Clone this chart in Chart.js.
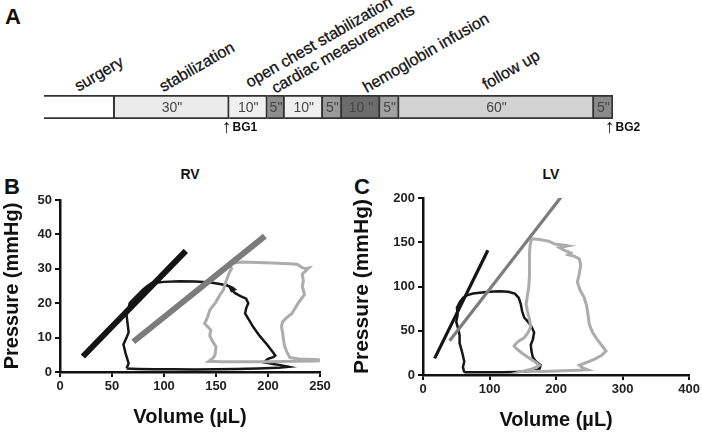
<!DOCTYPE html>
<html>
<head>
<meta charset="utf-8">
<script src="https://cdn.jsdelivr.net/npm/chart.js"></script>
<style>
  body { margin: 0; background: #fff; }
  #wrap { position: relative; width: 702px; height: 435px; overflow: hidden; font-family: "Liberation Sans", Arial, sans-serif; }
  canvas { position: absolute; }
  .lbl { position: absolute; white-space: nowrap; transform: translate(-50%, -50%) rotate(-30deg); font-size: 16px; color: #111; -webkit-text-stroke: 0.3px #111; }
  .big { position: absolute; font-weight: bold; color: #111; }
  .bg { position: absolute; font-weight: bold; font-size: 12px; color: #111; line-height: 16px; }
  .bg span { font-weight: normal; font-size: 19px; vertical-align: -2px; margin-right: 1px; }
</style>
</head>
<body>
<div id="wrap">
  <div class="big" style="left:5px; top:4px; font-size:22px;">A</div>

  <div class="lbl" style="left:99px; top:74px;">surgery</div>
  <div class="lbl" style="left:197px; top:67px;">stabilization</div>
  <div class="lbl" style="left:319px; top:42px;">open chest stabilization</div>
  <div class="lbl" style="left:343px; top:49px;">cardiac measurements</div>
  <div class="lbl" style="left:426px; top:53px;">hemoglobin infusion</div>
  <div class="lbl" style="left:511px; top:70px;">follow up</div>

  <canvas id="timeline" width="702" height="24" style="left:0; top:95px;"></canvas>
  <div class="bg" style="left:222px; top:119px;"><span>↑</span>BG1</div>
  <div class="bg" style="left:605px; top:119px;"><span>↑</span>BG2</div>

  <div class="big" style="left:4px; top:174px; font-size:22px;">B</div>
  <div class="big" style="left:190px; top:174px; font-size:14px; transform:translate(-50%,-50%);">RV</div>
  <canvas id="rv" width="350" height="265" style="left:0; top:170px;"></canvas>

  <div class="big" style="left:354px; top:174px; font-size:22px;">C</div>
  <div class="big" style="left:551px; top:174px; font-size:14px; transform:translate(-50%,-50%);">LV</div>
  <canvas id="lv" width="352" height="265" style="left:350px; top:170px;"></canvas>
</div>

<script>
// protocol timeline (drawn lengths, minutes on the schematic)
var segLength = [18.5, 30, 10, 4.5, 10, 5, 10, 5, 51, 5];
var segText = ['', '30"', '10"', '5"', '10"', '5"', '10 "', '5"', '60"', '5"'];
var segColor = ['#ffffff', '#ebebeb', '#f0f0f0', '#8e8e8e', '#f0f0f0', '#9a9a9a', '#6c6c6c', '#a2a2a2', '#d3d3d3', '#8a8a8a'];

// RV loops (volume uL, pressure mmHg)
var rvBaseVol = [64, 66, 63, 61, 64, 66, 65, 64, 66, 67, 70, 75, 80, 84, 88, 100, 115, 130, 145, 155, 162, 166, 168, 165, 164, 168, 174, 179, 181, 179, 178, 182, 186, 192, 199, 204, 207, 205, 200, 196, 205, 212, 220, 210, 190, 170, 150, 130, 110, 90, 75, 64];
var rvBaseP = [1.0, 2.5, 5.5, 8, 10, 11.5, 14, 16.5, 18.5, 20, 21, 22.5, 24, 25, 25.8, 26.2, 26.4, 26.3, 26, 25.5, 25, 24.5, 24, 23.6, 24.2, 23, 22, 21.3, 20, 18.5, 17, 15, 13, 10.5, 8, 6, 4.8, 4.3, 3.8, 2.8, 2.3, 2, 1.5, 1.2, 1.0, 0.9, 0.8, 0.7, 0.8, 0.8, 0.9, 1.0];
var rvHbVol = [162, 175, 190, 205, 220, 228, 232, 236, 239, 236, 233, 234, 233, 235, 229, 223, 218, 214, 213, 214, 215, 216, 218, 221, 230, 245, 258, 245, 225, 200, 175, 155, 143, 147, 149, 150, 146, 144, 145, 139, 142, 144, 150, 154, 157, 160, 163, 165, 162];
var rvHbP = [31.5, 32, 31.8, 31.7, 31.5, 31.3, 30.5, 30, 30.2, 29.3, 28.5, 26.5, 25, 22.5, 20, 17, 15.8, 14.6, 13.2, 11.5, 9.3, 7.5, 5.9, 4.2, 3.8, 3.6, 3.3, 3.2, 3.1, 3.0, 3.0, 3.0, 3.1, 4, 4.9, 7.3, 9.3, 10.5, 12.2, 14.1, 16, 18, 20.4, 22.5, 23.8, 26.7, 29, 30, 31.5];
var rvEspvrBaseVol = [22, 121];
var rvEspvrBaseP = [4.5, 35.2];
var rvEspvrHbVol = [70.5, 197];
var rvEspvrHbP = [8.8, 39.5];

// LV loops
var lvBaseVol = [62, 60, 62, 60, 58, 55, 55, 53, 50, 52, 51, 55, 60, 66, 75, 85, 100, 115, 128, 138, 144, 147, 149, 152, 158, 163, 167, 165, 162, 163, 165, 170, 177, 175, 168, 155, 140, 120, 100, 80, 65, 62];
var lvBaseP = [3, 9, 15, 22, 28, 36, 45, 52, 60, 68, 76, 82, 87, 90, 92, 93, 94, 94.5, 94, 92, 87, 80, 72, 65, 60, 55, 48, 40, 34, 27, 20, 15, 11, 7, 5, 4, 3.5, 3, 3, 3, 3, 3];
var lvHbVol = [163, 175, 190, 198, 210, 218, 205, 212, 222, 218, 228, 235, 237, 235, 232, 236, 242, 246, 248, 250, 255, 262, 270, 275, 268, 258, 245, 235, 240, 247, 235, 220, 200, 180, 165, 150, 165, 175, 168, 160, 150, 140, 137, 143, 152, 158, 162, 160, 157, 155, 157, 159, 160, 160, 160, 161, 163];
var lvHbP = [154, 153, 151, 148, 147, 146, 144, 141, 138, 136, 134, 131, 124, 115, 105, 96, 88, 78, 68, 57, 48, 40, 32, 27, 22, 18, 14, 11, 8, 6, 5.5, 5, 4.5, 4, 4.5, 4, 7, 11, 15, 19, 24, 30, 33, 38, 42, 48, 55, 63, 72, 80, 90, 100, 112, 125, 137, 147, 154];
var lvEspvrBaseVol = [17.5, 97.5];
var lvEspvrBaseP = [18.8, 141];
var lvEspvrHbVol = [40, 208.5];
var lvEspvrHbP = [38.7, 202];

function pts(xs, ys) {
    return xs.map(function (x, i) { return { x: x, y: ys[i] }; });
}

var fontFam = '"Liberation Sans", Arial, sans-serif';

// text inside the timeline boxes
var segTextPlugin = {
    id: 'segText',
    afterDatasetsDraw: function (chart) {
        var ctx = chart.ctx;
        ctx.save();
        ctx.font = '14px ' + fontFam;
        ctx.textAlign = 'center';
        ctx.textBaseline = 'middle';
        chart.data.datasets.forEach(function (ds, i) {
            var bar = chart.getDatasetMeta(i).data[0];
            ctx.fillStyle = '#444';
            ctx.fillText(segText[i], (bar.x + bar.base) / 2, bar.y + 1);
        });
        ctx.restore();
    }
};

var total = segLength.reduce(function (a, b) { return a + b; }, 0);

new Chart(document.getElementById('timeline'), {
    type: 'bar',
    data: {
        labels: [''],
        datasets: segLength.map(function (v, i) {
            return {
                data: [v],
                backgroundColor: segColor[i],
                borderColor: '#333',
                borderWidth: 2,
                barPercentage: 1,
                categoryPercentage: 1
            };
        })
    },
    options: {
        indexAxis: 'y',
        responsive: false,
        animation: false,
        layout: { padding: { left: 44, right: 89, top: 0, bottom: 0 } },
        scales: {
            x: { stacked: true, display: false, min: 0, max: total },
            y: { stacked: true, display: false }
        },
        plugins: { legend: { display: false }, tooltip: { enabled: false } }
    },
    plugins: [segTextPlugin]
});

function loopChart(id, cfg) {
    var tickFont = { family: fontFam, size: 13, weight: 'bold' };
    var titleFont = { family: fontFam, size: cfg.titleSize, weight: 'bold' };
    return new Chart(document.getElementById(id), {
        type: 'scatter',
        data: {
            datasets: [
                { data: cfg.hbLine, borderColor: '#7c7c7c', borderWidth: cfg.lineW, showLine: true, pointRadius: 0 },
                { data: cfg.baseLine, borderColor: '#141414', borderWidth: cfg.lineW, showLine: true, pointRadius: 0 },
                { data: cfg.hbLoop, borderColor: '#acacac', borderWidth: 3, showLine: true, pointRadius: 0 },
                { data: cfg.baseLoop, borderColor: '#161616', borderWidth: 2.5, showLine: true, pointRadius: 0 }
            ]
        },
        options: {
            responsive: false,
            animation: false,
            layout: { padding: cfg.padding },
            scales: {
                x: {
                    type: 'linear', min: 0, max: cfg.xMax,
                    ticks: { stepSize: cfg.xStep, font: tickFont, color: '#222', padding: 2 },
                    grid: { drawOnChartArea: false, color: '#111', lineWidth: 2, tickLength: 5 },
                    border: { color: '#111', width: 2.5 },
                    title: { display: true, text: 'Volume (µL)', font: { family: fontFam, size: 20, weight: 'bold' }, color: '#111', padding: { top: 0, bottom: cfg.xTitlePad } },
                    afterFit: function (s) { s.height = cfg.xHeight; }
                },
                y: {
                    min: 0, max: cfg.yMax,
                    ticks: { stepSize: cfg.yStep, font: tickFont, color: '#222', padding: 3 },
                    grid: { drawOnChartArea: false, color: '#111', lineWidth: 2, tickLength: 5 },
                    border: { color: '#111', width: 2.5 },
                    title: { display: true, text: 'Pressure (mmHg)', font: titleFont, color: '#111', padding: { top: 0, bottom: 0 } },
                    afterFit: function (s) { s.width = cfg.yWidth; }
                }
            },
            plugins: { legend: { display: false }, tooltip: { enabled: false } }
        }
    });
}

loopChart('rv', {
    baseLoop: pts(rvBaseVol, rvBaseP),
    hbLoop: pts(rvHbVol, rvHbP),
    baseLine: pts(rvEspvrBaseVol, rvEspvrBaseP),
    hbLine: pts(rvEspvrHbVol, rvEspvrHbP),
    lineW: 6,
    xMax: 250, xStep: 50, yMax: 50, yStep: 10,
    titleSize: 20, xTitlePad: 6,
    padding: { left: 0, right: 30, top: 30, bottom: 0 },
    xHeight: 63, yWidth: 60
});

loopChart('lv', {
    baseLoop: pts(lvBaseVol, lvBaseP),
    hbLoop: pts(lvHbVol, lvHbP),
    baseLine: pts(lvEspvrBaseVol, lvEspvrBaseP),
    hbLine: pts(lvEspvrHbVol, lvEspvrHbP),
    lineW: 3.2,
    xMax: 400, xStep: 100, yMax: 200, yStep: 50,
    titleSize: 21, xTitlePad: 3,
    padding: { left: 0, right: 12, top: 28, bottom: 0 },
    xHeight: 60, yWidth: 73
});
</script>
</body>
</html>
